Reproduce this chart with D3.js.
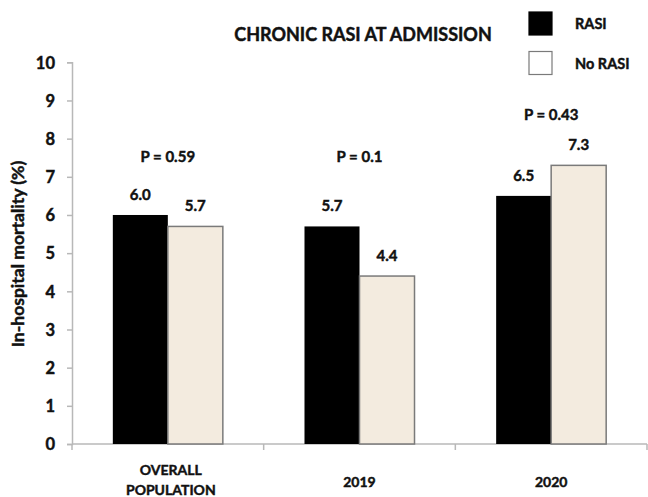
<!DOCTYPE html>
<html lang="en">
<head>
    <meta charset="UTF-8">
    <title>Chronic RASI at admission</title>
    <script src="https://d3js.org/d3.v7.min.js"></script>
    <style>
        body{ margin:0; background:#fff; }
        text{
            font-family: Lato, "Open Sans", sans-serif;
            font-weight: bold;
            fill:#111;
            stroke:#111;
            stroke-width:0.45px;
        }
        .axis path, .axis line{
            stroke:#b8b8b8;
            stroke-width:1.5;
        }
    </style>
</head>
<body>
    <script>
        // data
        var groups = ["OVERALL POPULATION", "2019", "2020"];
        var groupLines = [["OVERALL", "POPULATION"], ["2019"], ["2020"]];
        var series = ["RASI", "No RASI"];
        var rasi = [6.0, 5.7, 6.5];
        var noRasi = [5.7, 4.4, 7.3];
        var pValues = ["P = 0.59", "P = 0.1", "P = 0.43"];
        var pLevel = [7.4, 7.4, 8.5];   // where the p label sits, in axis units
        var yTicks = [0,1,2,3,4,5,6,7,8,9,10];

        var colors = {"RASI":"#000000", "No RASI":"#f3ebdf"};

        var svg = d3.select("body").append("svg")
                    .attr("width", 648).attr("height", 497);

        var x = d3.scaleBand().domain(groups).range([72, 647])
                  .paddingInner(0.426).paddingOuter(0.213);
        var xs = d3.scaleBand().domain(series).range([0, x.bandwidth()]);
        var y = d3.scaleLinear().domain([0, 10]).range([444, 62.3]);

        // axes
        var yAxis = svg.append("g").attr("class","axis")
                       .attr("transform","translate(72,0)")
                       .call(d3.axisLeft(y).tickValues(yTicks).tickSize(5).tickPadding(12));
        yAxis.selectAll("text").style("font-size","16.5px").attr("dy","0.35em");

        var edges = d3.scaleLinear().domain([0, 3]).range([72, 647]);
        var xAxis = svg.append("g").attr("class","axis")
                       .attr("transform","translate(0,444)");
        xAxis.append("line").attr("x1",72).attr("x2",647);
        xAxis.selectAll(".t").data([0,1,2,3]).enter().append("line")
             .attr("x1", function(d){return edges(d);})
             .attr("x2", function(d){return edges(d);})
             .attr("y1", 0).attr("y2", 6);

        // bars
        var rows = [];
        groups.forEach(function(g, i){
            rows.push({g:g, s:"RASI", v:rasi[i]});
            rows.push({g:g, s:"No RASI", v:noRasi[i]});
        });

        svg.append("g").selectAll("rect").data(rows).enter().append("rect")
           .attr("x", function(d){return x(d.g) + xs(d.s);})
           .attr("y", function(d){return y(d.v);})
           .attr("width", xs.bandwidth())
           .attr("height", function(d){return y(0) - y(d.v);})
           .attr("fill", function(d){return colors[d.s];})
           .attr("stroke", function(d){return d.s == "RASI" ? "none" : "#7a7a7a";})
           .attr("stroke-width", 1.5);

        svg.append("g").selectAll("text").data(rows).enter().append("text")
           .attr("x", function(d){return x(d.g) + xs(d.s) + xs.bandwidth()/2;})
           .attr("y", function(d){return y(d.v) - 15;})
           .attr("text-anchor","middle")
           .style("font-size","15px")
           .text(function(d){return d.v.toFixed(1);});

        // p values
        svg.append("g").selectAll("text").data(groups).enter().append("text")
           .attr("x", function(d){return x(d) + x.bandwidth()/2;})
           .attr("y", function(d, i){return y(pLevel[i]);})
           .attr("text-anchor","middle")
           .style("font-size","15px")
           .text(function(d, i){return pValues[i];});

        // category labels
        var cats = svg.append("g").selectAll("text").data(groups).enter().append("text")
           .attr("text-anchor","middle")
           .style("font-size","14px")
           .attr("y", function(d, i){return groupLines[i].length > 1 ? 475 : 487;});
        cats.each(function(d, i){
            var t = d3.select(this);
            groupLines[i].forEach(function(line, k){
                t.append("tspan")
                 .attr("x", x(d) + x.bandwidth()/2 + (groupLines[i].length > 1 ? 3 : 0))
                 .attr("dy", k == 0 ? 0 : 20)
                 .text(line);
            });
        });

        // y label
        svg.append("text")
           .attr("transform","translate(24,254) rotate(-90)")
           .attr("text-anchor","middle")
           .style("font-size","17.5px")
           .text("In-hospital mortality (%)");

        // title
        svg.append("text")
           .attr("x", 363).attr("y", 41)
           .attr("text-anchor","middle")
           .style("font-size","18px")
           .text("CHRONIC RASI AT ADMISSION");

        // legend
        var legend = svg.append("g").selectAll("g").data(series).enter().append("g")
                        .attr("transform", function(d, i){return "translate(529," + (12 + i*39.5) + ")";});
        legend.append("rect")
              .attr("width", 23).attr("height", 23)
              .attr("fill", function(d){return d == "RASI" ? "#000" : "#fff";})
              .attr("stroke", function(d){return d == "RASI" ? "#000" : "#7a7a7a";})
              .attr("stroke-width", 1.2);
        legend.append("text")
              .attr("x", 46).attr("y", 12).attr("dy","0.35em")
              .style("font-size","14.5px")
              .text(function(d){return d;});
    </script>
</body>
</html>
